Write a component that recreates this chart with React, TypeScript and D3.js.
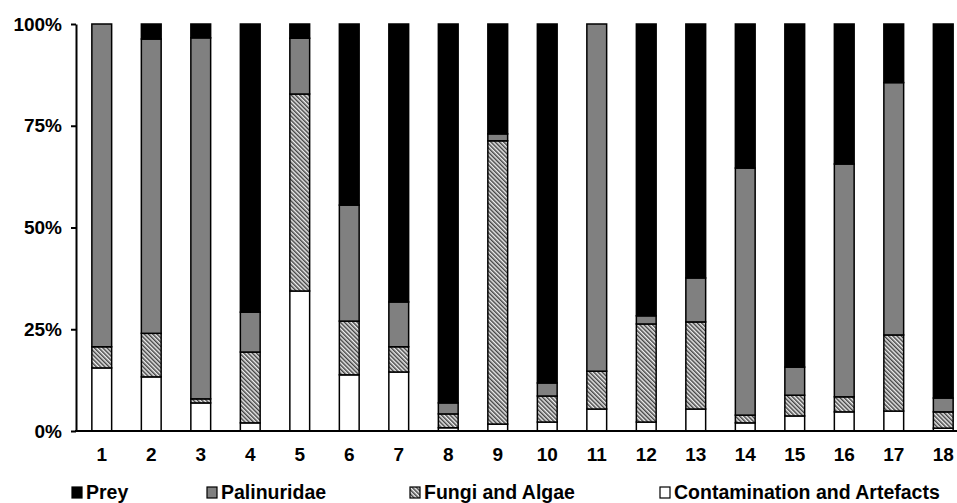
import { useEffect, useRef } from "react";
import * as d3 from "d3";

const samples = ["1", "2", "3", "4", "5", "6", "7", "8", "9", "10", "11", "12", "13", "14", "15", "16", "17", "18"];

// percentages per sample
const contamination = [15.5, 13.3, 6.9, 2.0, 34.4, 13.8, 14.5, 0.8, 1.7, 2.2, 5.4, 2.2, 5.4, 2.0, 3.7, 4.7, 4.9, 0.7];
const fungiAlgae = [5.2, 10.7, 1.0, 17.4, 48.4, 13.2, 6.2, 3.4, 69.6, 6.4, 9.3, 24.1, 21.4, 1.9, 5.1, 3.7, 18.7, 4.0];
const palinuridae = [79.3, 72.3, 88.7, 9.8, 13.7, 28.5, 11.0, 2.7, 1.7, 3.2, 85.3, 2.0, 10.8, 60.7, 6.9, 57.2, 62.0, 3.4];
const prey = [0, 3.7, 3.4, 70.8, 3.5, 44.5, 68.3, 93.1, 27.0, 88.2, 0, 71.7, 62.4, 35.4, 84.3, 34.4, 14.4, 91.9];

const yTicks = [0, 0.25, 0.5, 0.75, 1];

const legendItems = [
  { key: "prey", label: "Prey" },
  { key: "palinuridae", label: "Palinuridae" },
  { key: "fungi", label: "Fungi and Algae" },
  { key: "contamination", label: "Contamination and Artefacts" },
];

const FONT = "'Liberation Sans', Arial, sans-serif";

export default function App() {
  const svgRef = useRef<SVGSVGElement>(null);

  useEffect(() => {
    document.body.style.margin = "0";
    if (!svgRef.current) return;
    const svg = d3.select(svgRef.current);
    svg.selectAll("*").remove();

    const W = 957, H = 503;
    const margin = { top: 24, left: 77, bottom: 72 };

    const fill: Record<string, string> = {
      prey: "#000000",
      palinuridae: "#808080",
      fungi: "url(#hatch)",
      contamination: "#ffffff",
    };

    // hatch pattern for fungi & algae
    const defs = svg.append("defs");
    const pat = defs.append("pattern")
      .attr("id", "hatch")
      .attr("patternUnits", "userSpaceOnUse")
      .attr("width", 3).attr("height", 3)
      .attr("patternTransform", "rotate(-45)");
    pat.append("rect").attr("width", 3).attr("height", 3).attr("fill", "#eeeeee");
    pat.append("rect").attr("width", 1.5).attr("height", 3).attr("fill", "#444");

    const rows = samples.map((s, i) => ({
      sample: s,
      contamination: contamination[i] / 100,
      fungi: fungiAlgae[i] / 100,
      palinuridae: palinuridae[i] / 100,
      prey: prey[i] / 100,
    }));

    const keys = ["contamination", "fungi", "palinuridae", "prey"];
    const series = d3.stack<any>().keys(keys)(rows);

    const x = d3.scaleBand()
      .domain(samples)
      .range([margin.left, margin.left + 49.5 * samples.length])
      .paddingInner(0.6)
      .paddingOuter(0.3);

    const y = d3.scaleLinear().domain([0, 1]).range([H - margin.bottom, margin.top]);

    // bars
    const g = svg.append("g");
    series.forEach((s) => {
      g.append("g")
        .selectAll("rect")
        .data(s.filter((d) => d[1] - d[0] > 0.0001))
        .join("rect")
        .attr("x", (d) => x(d.data.sample)!)
        .attr("width", x.bandwidth())
        .attr("y", (d) => y(d[1]))
        .attr("height", (d) => y(d[0]) - y(d[1]))
        .attr("fill", fill[s.key])
        .attr("stroke", "#000")
        .attr("stroke-width", 1.5);
    });

    // y axis
    const yAxis = svg.append("g")
      .attr("transform", `translate(${margin.left - 1},0)`)
      .call(d3.axisLeft(y).tickValues(yTicks).tickFormat(d3.format(".0%")).tickSize(5).tickSizeOuter(0).tickPadding(9));
    yAxis.select(".domain").attr("stroke", "#000").attr("stroke-width", 2);
    yAxis.selectAll(".tick line").attr("stroke", "#000").attr("stroke-width", 2);
    yAxis.selectAll("text")
      .attr("font-family", FONT).attr("font-weight", "bold").attr("font-size", 19).attr("fill", "#000");

    // x axis
    const xAxis = svg.append("g")
      .attr("transform", `translate(0,${y(0)})`)
      .call(d3.axisBottom(x).tickSize(0).tickPadding(17));
    xAxis.select(".domain").attr("d", `M${margin.left - 2},0H${W}`).attr("stroke", "#000").attr("stroke-width", 2);
    xAxis.selectAll("text")
      .attr("font-family", FONT).attr("font-weight", "bold").attr("font-size", 19).attr("fill", "#000");

    // legend
    const legendX = [72, 207, 410, 660];
    const lg = svg.append("g");
    legendItems.forEach((item, i) => {
      const gi = lg.append("g").attr("transform", `translate(${legendX[i]},${H - 4})`);
      gi.append("rect")
        .attr("x", 0).attr("y", -12).attr("width", 10).attr("height", 11)
        .attr("fill", fill[item.key]).attr("stroke", "#000").attr("stroke-width", 1.2);
      gi.append("text")
        .attr("x", 14).attr("y", 0)
        .attr("font-family", FONT).attr("font-weight", "bold").attr("font-size", 19.5)
        .attr("fill", "#000")
        .text(item.label);
    });
  }, []);

  return (
    <svg ref={svgRef} width={957} height={503} style={{ display: "block", background: "#fff" }} />
  );
}
